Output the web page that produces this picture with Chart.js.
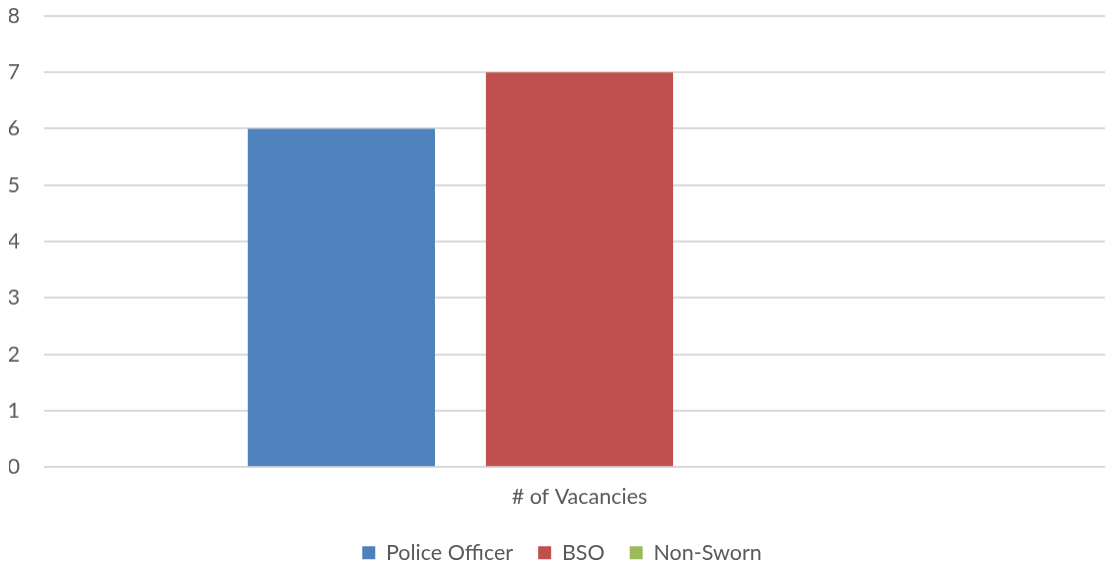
<!DOCTYPE html>
<html>
<head>
<meta charset="utf-8">
<script src="https://cdn.jsdelivr.net/npm/chart.js@4"></script>
<style>
  html, body { margin: 0; padding: 0; background: #fff; overflow: hidden; }
  #wrap { width: 1115px; height: 593.5px; position: absolute; left: 0; top: -21px; }
</style>
</head>
<body>
<div id="wrap"><canvas id="mycanvas"></canvas></div>
<script>
var categories = ["# of Vacancies"];
var seriesNames = ["Police Officer", "BSO", "Non-Sworn"];
var policeOfficer = [6];
var bso = [7];
var nonSworn = [0];
var yTicks = [0, 1, 2, 3, 4, 5, 6, 7, 8];

var colors = ["#4F81BD", "#C0504D", "#9BBB59"];
var values = [policeOfficer, bso, nonSworn];

var datasets = [];
for (var i in seriesNames) {
	datasets.push({
		label: seriesNames[i],
		backgroundColor: colors[i],
		borderWidth: 0,
		data: values[i],
		barPercentage: 0.786,
		categoryPercentage: 0.667
	});
}

var ctx = document.getElementById("mycanvas");
var textColor = "#595959";
var font = { family: 'Lato', size: 21.5 };

new Chart(ctx, {
	type: 'bar',
	data: { labels: categories, datasets: datasets },
	options: {
		responsive: true,
		maintainAspectRatio: false,
		animation: false,
		layout: { padding: { left: 9, top: -13, right: 0, bottom: 0 } },
		plugins: {
			tooltip: { enabled: false },
			legend: {
				position: 'bottom',
				labels: {
					color: textColor,
					font: font,
					boxWidth: 13,
					boxHeight: 13,
					padding: 25
				}
			}
		},
		scales: {
			x: {
				grid: { display: false, drawTicks: false },
				border: { display: false },
				afterFit: function(axis) { axis.height = axis.height - 10; },
				ticks: { color: textColor, font: font, padding: 17 }
			},
			y: {
				min: 0,
				max: 8,
				afterBuildTicks: function(axis) {
					axis.ticks = yTicks.map(function(v) { return { value: v }; });
				},
				afterFit: function(axis) { axis.width = 35; },
				grid: { color: '#D9D9D9', lineWidth: 2, drawTicks: false },
				border: { display: false },
				ticks: { color: textColor, font: font, padding: 24 }
			}
		}
	}
});
</script>
</body>
</html>
